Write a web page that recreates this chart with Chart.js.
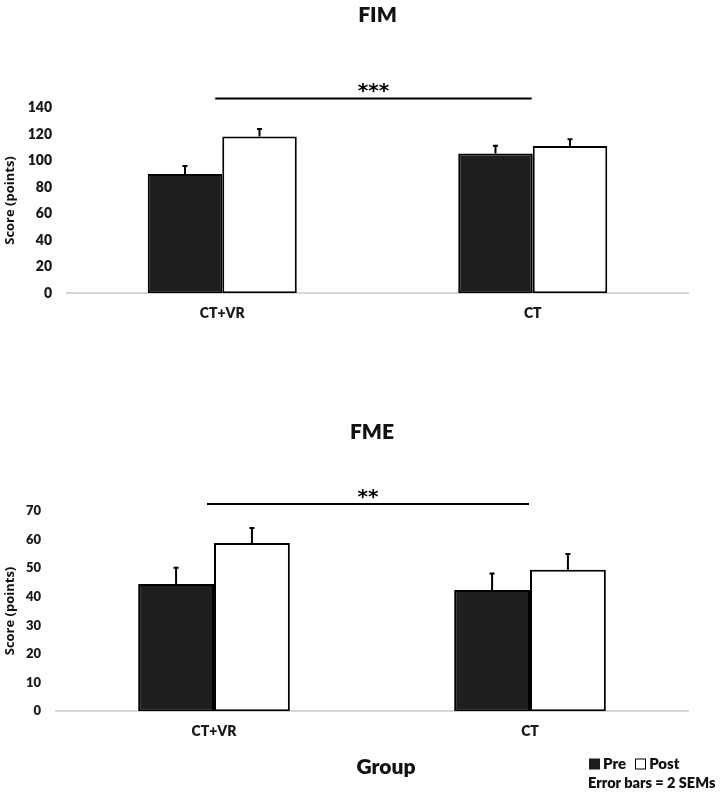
<!DOCTYPE html>
<html>
<head>
<meta charset="utf-8">
<script src="https://cdn.jsdelivr.net/npm/chart.js@4"></script>
<style>
html,body{margin:0;padding:0;background:#fff;}
#wrap{position:relative;width:720px;height:799px;overflow:hidden;font-family:Lato,"Open Sans",sans-serif;font-weight:800;color:#111;}
#c1{position:absolute;left:0;top:0;}
#c2{position:absolute;left:0;top:400px;}
.txt{position:absolute;white-space:nowrap;line-height:1;}
.sq{display:inline-block;width:11px;height:11px;box-sizing:border-box;vertical-align:middle;margin-top:-2px;}
</style>
</head>
<body>
<div id="wrap">
  <canvas id="c1" width="720" height="400"></canvas>
  <canvas id="c2" width="720" height="399"></canvas>
  <div class="txt" style="left:386px;top:765px;transform:translate(-50%,-50%);font-size:21px;">Group</div>
  <div class="txt" style="left:589px;top:763px;transform:translateY(-50%);font-size:15px;">
    <span class="sq" style="background:#1e1e1e;"></span><span style="margin-left:3px;">Pre</span><span class="sq" style="background:#fff;border:1.5px solid #000;margin-left:9px;"></span><span style="margin-left:3px;">Post</span>
  </div>
  <div class="txt" style="left:588px;top:783px;transform:translateY(-50%);font-size:14.5px;">Error bars = 2 SEMs</div>
</div>
<script>
// ---- data ----
const categories = ['CT+VR', 'CT'];
const seriesNames = ['Pre', 'Post'];

const fimPre = [90, 105.5];
const fimPost = [118.2, 111.2];
const fimPreErr = [6, 5.8];
const fimPostErr = [5.8, 5];

const fmePre = [44.4, 42.3];
const fmePost = [58.7, 49.4];
const fmePreErr = [5.7, 5.8];
const fmePostErr = [5.3, 5.5];

const fimTicks = [0, 20, 40, 60, 80, 100, 120, 140];
const fmeTicks = [0, 10, 20, 30, 40, 50, 60, 70];

const fimSig = {label: '***', level: 147};
const fmeSig = {label: '**', level: 72.3};

// ---- plugins ----
const errorBars = {
  id: 'errorBars',
  afterDatasetsDraw(chart) {
    const ctx = chart.ctx, y = chart.scales.y;
    ctx.save();
    ctx.strokeStyle = '#000';
    ctx.lineWidth = 2;
    chart.data.datasets.forEach((ds, i) => {
      const meta = chart.getDatasetMeta(i);
      meta.data.forEach((bar, j) => {
        const top = y.getPixelForValue(ds.data[j] + ds.errors[j]);
        ctx.beginPath();
        ctx.moveTo(bar.x, bar.y);
        ctx.lineTo(bar.x, top);
        ctx.moveTo(bar.x - 2.5, top);
        ctx.lineTo(bar.x + 2.5, top);
        ctx.stroke();
      });
    });
    ctx.restore();
  }
};

const sigBar = {
  id: 'sigBar',
  afterDraw(chart, args, opts) {
    const ctx = chart.ctx, x = chart.scales.x, y = chart.scales.y;
    const yy = y.getPixelForValue(opts.level);
    const x1 = x.getPixelForValue(0) - 7;
    const x2 = x.getPixelForValue(1) - 1;
    ctx.save();
    ctx.strokeStyle = '#000';
    ctx.lineWidth = 2;
    ctx.beginPath();
    ctx.moveTo(x1, yy);
    ctx.lineTo(x2, yy);
    ctx.stroke();
    ctx.fillStyle = '#000';
    ctx.font = 'bold 20px "DejaVu Sans"';
    ctx.textAlign = 'center';
    ctx.textBaseline = 'alphabetic';
    ctx.fillText(opts.label, (x1 + x2) / 2, yy - 1);
    ctx.restore();
  }
};

Chart.defaults.font.family = 'Lato';
Chart.defaults.color = '#1a1a1a';

function makeChart(id, title, pre, post, preErr, postErr, ticks, sig, cfg) {
  const tickMax = ticks[ticks.length - 1];
  const tickStep = ticks[1] - ticks[0];
  return new Chart(document.getElementById(id), {
    type: 'bar',
    data: {
      labels: categories,
      datasets: [
        {label: seriesNames[0], data: pre, errors: preErr, backgroundColor: '#1e1e1e',
         borderColor: '#000', borderWidth: 2, borderSkipped: false},
        {label: seriesNames[1], data: post, errors: postErr, backgroundColor: '#ffffff',
         borderColor: '#000', borderWidth: 2, borderSkipped: false}
      ]
    },
    options: {
      responsive: false,
      animation: false,
      events: [],
      layout: {padding: {left: 0, right: 32, top: 0, bottom: cfg.padBottom}},
      datasets: {bar: {categoryPercentage: 0.48, barPercentage: 1.0}},
      plugins: {
        legend: {display: false},
        tooltip: {enabled: false},
        title: {
          display: true, text: title, fullSize: false, color: '#111',
          font: {family: 'Lato', size: 21, weight: 800},
          padding: {top: cfg.titleTop, bottom: cfg.titleBottom}
        },
        sigBar: sig
      },
      scales: {
        x: {
          grid: {display: false, drawTicks: false},
          border: {display: true, color: '#d6d6d6', width: 2},
          ticks: {padding: cfg.xPad, font: {family: 'Lato', size: 14, weight: 800}},
          afterFit: s => { s.height = 30; }
        },
        y: {
          min: 0, max: tickMax,
          grid: {display: false, drawTicks: false},
          border: {display: false},
          ticks: {stepSize: tickStep, padding: 15, font: {family: 'Lato', size: cfg.yFont, weight: 800}},
          title: {display: true, text: 'Score (points)', color: '#111',
                  font: {family: 'Open Sans', size: 13, weight: 'bold'}, padding: {top: 2, bottom: 0}},
          afterFit: s => { s.width = cfg.yWidth; }
        }
      }
    },
    plugins: [errorBars, sigBar]
  });
}

makeChart('c1', 'FIM', fimPre, fimPost, fimPreErr, fimPostErr, fimTicks, fimSig,
  {padBottom: 76.7, titleTop: 2.4, titleBottom: 80.1, xPad: 11.3, yFont: 14, yWidth: 67});
makeChart('c2', 'FME', fmePre, fmePost, fmePreErr, fmePostErr, fmeTicks, fmeSig,
  {padBottom: 57.7, titleTop: 19.4, titleBottom: 66.1, xPad: 12, yFont: 13, yWidth: 56});
</script>
</body>
</html>
